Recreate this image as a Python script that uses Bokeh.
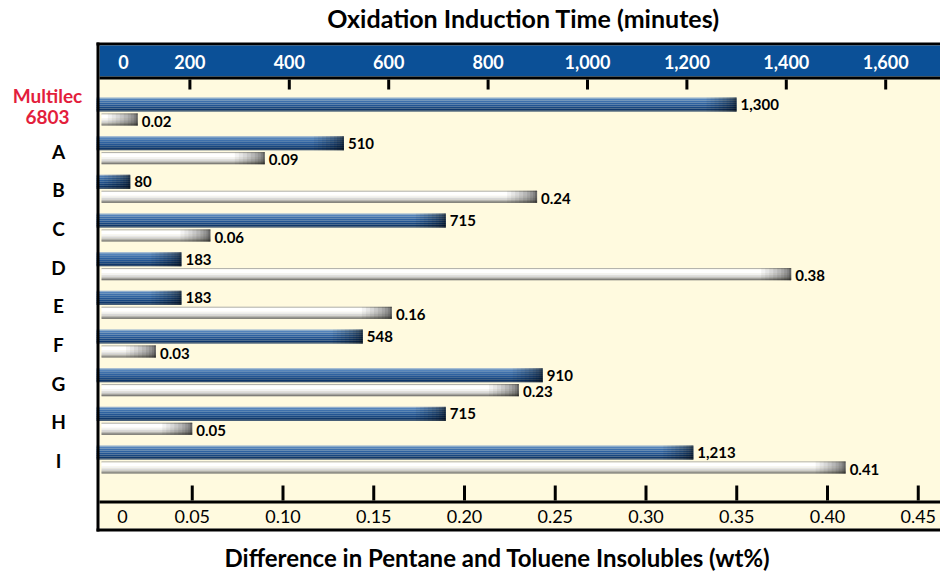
from bokeh.plotting import figure
from bokeh.models import Range1d, BoxAnnotation, ColumnDataSource
from bokeh.core.properties import value
from bokeh.transform import dodge
from bokeh.embed import file_html
from bokeh.resources import INLINE

# ---------------- data ----------------
categories = ["Multilec 6803", "A", "B", "C", "D", "E", "F", "G", "H", "I"]
oit_minutes = [1300, 510, 80, 715, 183, 183, 548, 910, 715, 1213]
insolubles_wt = [0.02, 0.09, 0.24, 0.06, 0.38, 0.16, 0.03, 0.23, 0.05, 0.41]
oit_ticks = [0, 200, 400, 600, 800, 1000, 1200, 1400, 1600]
oit_tick_labels = ["0", "200", "400", "600", "800", "1,000", "1,200", "1,400", "1,600"]
wt_ticks = [0, 0.05, 0.10, 0.15, 0.20, 0.25, 0.30, 0.35, 0.40, 0.45]
wt_tick_labels = ["0", "0.05", "0.10", "0.15", "0.20", "0.25", "0.30", "0.35", "0.40", "0.45"]
top_title = "Oxidation Induction Time (minutes)"
bottom_title = "Difference in Pentane and Toluene Insolubles (wt%)"

# ---------------- layout / style ----------------
W, H = 940, 573
FONT = "Lato"
CREAM = "#FFFADF"
BAND_BLUE = "#0B5097"
RED = "#E31E3C"
PITCH = 38.67            # px between category rows
ROW0 = 112               # px of first row centre
WT0, WT_PX = 101, 1815   # px of wt% zero, px per wt%
OIT0, OIT_PX = 90, 0.497  # px of 0 minutes, px per minute


def sy(px):
    return -(px - ROW0) / PITCH


def wx(px):
    return (px - WT0) / WT_PX


def ox(px):
    return (px - OIT0) / OIT_PX


top_label_nudge = [33, 0, 0, 0, 0, 0, 0, 0, 0]
bottom_label_nudge = [21, 0, 0, 0, 0, 0, 0, 0, 0, 0]

BLUE_SLICES = [(-15, -14, "#8AA9CE"), (-14, -12, "#5383BB"), (-12, -10, "#3E70AC"),
               (-10, -8, "#2E62A1"), (-8, -6, "#235594"), (-6, -4, "#184781"),
               (-4, -2, "#0F376B"), (-2, -1, "#0A2A55")]
WHITE_SLICES = [(1, 2, "#9C9C9C"), (2, 6, "#FFFFFF"), (6, 8, "#F2F2F2"), (8, 10, "#D8D8D8"),
                (10, 11, "#B4B4B4"), (11, 12, "#8C8C8C"), (12, 13, "#5E5E5E")]
END_SHADES = [(30, 0.05), (26, 0.05), (22, 0.06), (18, 0.07), (14, 0.08), (10, 0.09),
              (7, 0.1), (4, 0.12), (2, 0.2)]

src = ColumnDataSource(dict(
    pos=[-i for i in range(len(categories))],
    oit=oit_minutes,
    wt=insolubles_wt,
    oit_lbl=[f"{v:,}" for v in oit_minutes],
    wt_lbl=[f"{v:.2f}" for v in insolubles_wt],
))
top_src = ColumnDataSource(dict(t=oit_ticks, lbl=oit_tick_labels, dx=top_label_nudge))
bot_src = ColumnDataSource(dict(t=wt_ticks, lbl=wt_tick_labels, dx=bottom_label_nudge))

p = figure(width=W, height=H, title=None,
           x_range=Range1d(wx(0), wx(W)), y_range=Range1d(sy(H), sy(0)),
           output_backend="svg", toolbar_location=None,
           x_axis_location=None, y_axis_location=None,
           min_border=0, min_border_left=0, min_border_right=0, min_border_top=0, min_border_bottom=0,
           background_fill_color="white", border_fill_color="white", outline_line_color=None)
p.extra_x_ranges = {"oit": Range1d(ox(0), ox(W))}
p.grid.visible = False


# ---------------- panel, bands, borders ----------------
def box(l_px, r_px, t_px, b_px, color, level="underlay"):
    p.add_layout(BoxAnnotation(left=wx(l_px), right=wx(r_px), top=sy(t_px), bottom=sy(b_px),
                               fill_color=color, fill_alpha=1, line_color=None, level=level))


box(99, W, 45, 528, CREAM)
box(96, W, 42, 45, "black")
box(99, W, 45, 76, BAND_BLUE)
box(99, W, 76, 79, "black")
box(99, W, 500, 503, "black")
box(96, W, 528, 531, "black")
# white margin + left border drawn over the bar roots
box(0, 96, 79, 500, "white", level="annotation")
box(96, 99, 42, 531, "black", level="annotation")

# ---------------- bars ----------------
for a, b, c in BLUE_SLICES:
    p.hbar(y=dodge("pos", -((a + b) / 2) / PITCH), height=(b - a) / PITCH, left=0, right="oit",
           x_range_name="oit", fill_color=c, line_color=None, source=src)
for w, al in END_SHADES:
    p.hbar(y=dodge("pos", 8 / PITCH), height=14 / PITCH, left=dodge("oit", -w / OIT_PX), right="oit",
           x_range_name="oit", fill_color="black", fill_alpha=al, line_color=None, source=src)
for a, b, c in WHITE_SLICES:
    p.hbar(y=dodge("pos", -((a + b) / 2) / PITCH), height=(b - a) / PITCH, left=0, right="wt",
           fill_color=c, line_color=None, source=src)
for w, al in END_SHADES:
    p.hbar(y=dodge("pos", -7 / PITCH), height=12 / PITCH, left=dodge("wt", -w / WT_PX), right="wt",
           fill_color="black", fill_alpha=al, line_color=None, source=src)

# value labels
p.text(x="oit", y=dodge("pos", 8 / PITCH), text="oit_lbl", x_range_name="oit", source=src,
       x_offset=4, text_baseline="middle", text_align="left", text_font=value(FONT),
       text_font_style="bold", text_font_size="15px", text_color="black")
p.text(x="wt", y=dodge("pos", -8.5 / PITCH), text="wt_lbl", source=src,
       x_offset=4, text_baseline="middle", text_align="left", text_font=value(FONT),
       text_font_style="bold", text_font_size="15px", text_color="black")

# ---------------- top scale (minutes) ----------------
tick_top = ColumnDataSource(dict(t=oit_ticks[1:]))
p.segment(x0="t", x1="t", y0=sy(79), y1=sy(89), x_range_name="oit", source=tick_top,
          line_width=3, line_color="black")
p.text(x="t", y=sy(61), text="lbl", x_offset="dx", x_range_name="oit", source=top_src,
       text_align="center", text_baseline="middle", text_color="white",
       text_font=value(FONT), text_font_style="bold", text_font_size="18px")

# ---------------- bottom scale (wt%) ----------------
tick_bot = ColumnDataSource(dict(t=wt_ticks[1:]))
p.segment(x0="t", x1="t", y0=sy(485), y1=sy(500), source=tick_bot,
          line_width=3, line_color="black")
p.text(x="t", y=sy(516), text="lbl", x_offset="dx", source=bot_src,
       text_align="center", text_baseline="middle", text_color="black",
       text_font=value(FONT), text_font_style="normal", text_font_size="18px")

# ---------------- category labels ----------------
cat_src = ColumnDataSource(dict(pos=[-i for i in range(1, len(categories))], name=categories[1:]))
p.text(x=wx(58), y="pos", text="name", source=cat_src, text_align="center", text_baseline="middle",
       text_font=value(FONT), text_font_style="bold", text_font_size="19px", text_color="black",
       level="overlay")
p.text(x=[wx(47)], y=[sy(105.5)], text=[categories[0].replace(" ", "\n")],
       text_align="center", text_baseline="middle", text_color=RED, text_line_height=0.92,
       text_font=value(FONT), text_font_style="bold", text_font_size="19px", level="overlay")

# ---------------- titles ----------------
p.text(x=[wx(523)], y=[sy(17)], text=[top_title], text_align="center", text_baseline="middle",
       text_font=value(FONT), text_font_style="bold", text_font_size="25px", text_color="black")
p.text(x=[wx(497)], y=[sy(557)], text=[bottom_title], text_align="center", text_baseline="middle",
       text_font=value(FONT), text_font_style="bold", text_font_size="24px", text_color="black")

open("out.html", "w").write(file_html(p, INLINE))
